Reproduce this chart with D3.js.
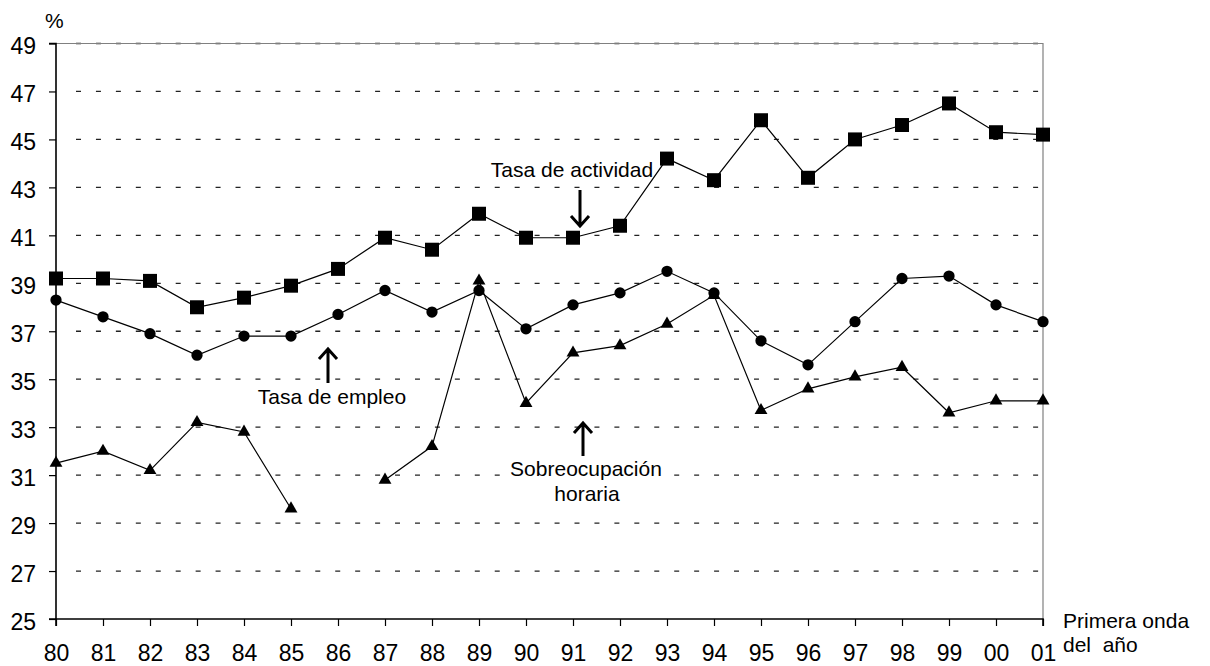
<!DOCTYPE html>
<html>
<head>
<meta charset="utf-8">
<script src="https://cdn.jsdelivr.net/npm/d3@7"></script>
<style>
  body { margin: 0; background: #fff; }
  svg { display: block; font-family: "Liberation Sans", Arial, sans-serif; }
</style>
</head>
<body>
<div id="chart"></div>
<script>
const years = ["80","81","82","83","84","85","86","87","88","89","90","91","92","93","94","95","96","97","98","99","00","01"];
const yTicks = [25,27,29,31,33,35,37,39,41,43,45,47,49];

const actividad = [39.2,39.2,39.1,38.0,38.4,38.9,39.6,40.9,40.4,41.9,40.9,40.9,41.4,44.2,43.3,45.8,43.4,45.0,45.6,46.5,45.3,45.2];
const empleo    = [38.3,37.6,36.9,36.0,36.8,36.8,37.7,38.7,37.8,38.7,37.1,38.1,38.6,39.5,38.6,36.6,35.6,37.4,39.2,39.3,38.1,37.4];
const sobreocup = [31.5,32.0,31.2,33.2,32.8,29.6,null,30.8,32.2,39.1,34.0,36.1,36.4,37.3,38.5,33.7,34.6,35.1,35.5,33.6,34.1,34.1];

const width = 1210, height = 666;
const plotLeft = 56, plotRight = 1043, plotTop = 43.5, plotBottom = 619;

const svg = d3.select("#chart").append("svg")
  .attr("width", width)
  .attr("height", height);

const x = d3.scalePoint().domain(years).range([plotLeft, plotRight]);
const y = d3.scaleLinear().domain([25, 49]).range([plotBottom, plotTop]);

// gridlines
svg.append("g")
  .selectAll("line")
  .data(yTicks.filter(d => d > 25))
  .join("line")
  .attr("x1", plotLeft + 20).attr("x2", plotRight)
  .attr("y1", d => y(d)).attr("y2", d => y(d))
  .attr("stroke", "#222")
  .attr("stroke-width", 1.3)
  .attr("stroke-dasharray", "5 14.94");

// plot border (top, right)
svg.append("path")
  .attr("d", `M${plotLeft},${plotTop}H${plotRight}V${plotBottom}`)
  .attr("fill", "none")
  .attr("stroke", "#808080")
  .attr("stroke-width", 1.2);

// axes
const yAxis = svg.append("g")
  .attr("transform", `translate(${plotLeft},0)`)
  .call(d3.axisLeft(y).tickValues(yTicks).tickSize(7).tickPadding(13));
const xAxis = svg.append("g")
  .attr("transform", `translate(0,${plotBottom})`)
  .call(d3.axisBottom(x).tickSize(7).tickPadding(19));

[yAxis, xAxis].forEach(g => {
  g.select(".domain").attr("stroke", "#000").attr("stroke-width", 1.6);
  g.selectAll(".tick line").attr("stroke", "#000").attr("stroke-width", 1.2);
  g.selectAll("text").attr("fill", "#000").attr("font-size", 23)
    .attr("font-family", "'Liberation Sans', Arial, sans-serif");
});
yAxis.select(".domain").attr("d", `M-7,${plotBottom}H0V${plotTop}H-7`);
yAxis.selectAll("text").attr("dy", "0.45em");
xAxis.select(".domain").attr("d", `M${plotLeft},7V0H${plotRight}V7`);

// series
const series = [
  { values: actividad, symbol: d3.symbolSquare, size: 196 },
  { values: empleo, symbol: d3.symbolCircle, size: 100 },
  { values: sobreocup, symbol: d3.symbolTriangle, size: 72 }
];

const line = d3.line()
  .defined(d => d[1] != null)
  .x(d => x(d[0]))
  .y(d => y(d[1]));

series.forEach(s => {
  const pts = years.map((yr, i) => [yr, s.values[i]]);
  svg.append("path")
    .datum(pts)
    .attr("d", line)
    .attr("fill", "none")
    .attr("stroke", "#000")
    .attr("stroke-width", 1.2);
  svg.append("g")
    .selectAll("path")
    .data(pts.filter(d => d[1] != null))
    .join("path")
    .attr("transform", d => `translate(${x(d[0])},${y(d[1])})`)
    .attr("d", d3.symbol(s.symbol, s.size))
    .attr("fill", "#000");
});

// annotations
function arrow(cx, y1, y2) {
  const dir = y2 > y1 ? -1 : 1;
  svg.append("path")
    .attr("d", `M${cx},${y1}V${y2}M${cx - 9},${y2 + dir * 10}L${cx},${y2}L${cx + 9},${y2 + dir * 10}`)
    .attr("fill", "none")
    .attr("stroke", "#000")
    .attr("stroke-width", 3);
}

// white box behind the lower label hides the gridline
svg.append("rect")
  .attr("x", 510).attr("y", 459).attr("width", 156).attr("height", 48)
  .attr("fill", "#fff");

const note = svg.append("g").attr("font-size", 21).attr("fill", "#000");

note.append("text").attr("x", 572).attr("y", 177).attr("text-anchor", "middle").text("Tasa de actividad");
arrow(580, 190, 226);

note.append("text").attr("x", 332).attr("y", 404).attr("text-anchor", "middle").text("Tasa de empleo");
arrow(328, 383, 349);

note.append("text").attr("x", 586).attr("y", 476).attr("text-anchor", "middle").text("Sobreocupación");
note.append("text").attr("x", 587).attr("y", 501).attr("text-anchor", "middle").text("horaria");
arrow(583, 456, 423);

svg.append("text").attr("x", 45).attr("y", 28).attr("font-size", 21).text("%");

const xt = svg.append("g").attr("font-size", 21);
xt.append("text").attr("x", 1063).attr("y", 628).text("Primera onda");
xt.append("text").attr("x", 1063).attr("y", 652).attr("xml:space", "preserve").text("del  año");
</script>
</body>
</html>
